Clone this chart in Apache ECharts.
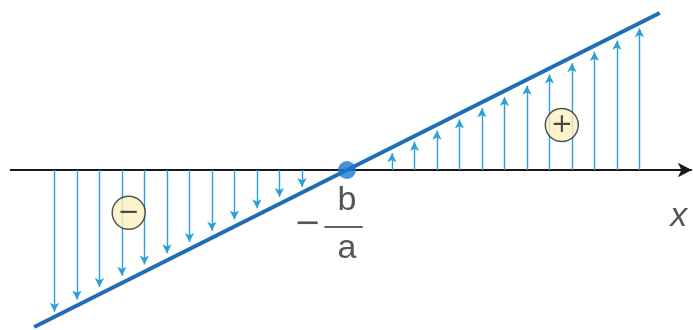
<!DOCTYPE html>
<html>
<head>
<meta charset="utf-8">
<script src="https://cdn.jsdelivr.net/npm/echarts@6/dist/echarts.min.js"></script>
<style>
  html, body { margin: 0; padding: 0; background: #fff; }
  #chart { width: 693px; height: 330px; }
</style>
</head>
<body>
<div id="chart"></div>
<script>
// line y = a*x + b, root at x = -b/a (placed at 0)
var lineX = [-13.9, 13.9];
var lineY = [-6.98, 6.98];

// vertical arrows: foot on the x axis, tip near the line
var arrowX = [-13, -12, -11, -10, -9, -8, -7, -6, -5, -4, -3, -2,
              2, 3, 4, 5, 6, 7, 8, 9, 10, 11, 12, 13];
var arrowTip = [-6.3, -5.75, -5.2, -4.7, -4.2, -3.7, -3.2, -2.7, -2.2, -1.7, -1.2, -0.75,
                0.75, 1.25, 1.75, 2.25, 2.75, 3.25, 3.75, 4.25, 4.75, 5.25, 5.75, 6.3];

var axisFrom = -14.98, axisTo = 15.33;
var root = [0, 0];
var signs = [['\u2212', -9.7, -1.9], ['+', 9.55, 2.0]];

var arrowLines = arrowX.map(function (x, i) {
  return [{ coord: [x, 0] }, { coord: [x, arrowTip[i]] }];
});

var option = {
  animation: false,
  grid: { left: 0, right: 0, top: 0, bottom: 0 },
  xAxis: { type: 'value', min: -15.42, max: 15.38, show: false },
  yAxis: { type: 'value', min: -7.111, max: 7.556, show: false },
  series: [
    {
      // x axis with arrow
      type: 'line',
      data: [],
      markLine: {
        silent: true,
        symbol: ['none', 'arrow'],
        symbolSize: [11, 14],
        label: { show: false },
        lineStyle: { color: '#1a1a1a', width: 1.8, type: 'solid' },
        data: [[{ coord: [axisFrom, 0] }, { coord: [axisTo, 0] }]]
      }
    },
    {
      // vertical arrows
      type: 'line',
      data: [],
      markLine: {
        silent: true,
        symbol: ['none', 'arrow'],
        symbolSize: [7, 9],
        label: { show: false },
        lineStyle: { color: '#2b9fd6', width: 1.4, type: 'solid' },
        data: arrowLines
      }
    },
    {
      type: 'line',
      data: lineX.map(function (x, i) { return [x, lineY[i]]; }),
      symbol: 'none',
      lineStyle: { color: '#1f6db4', width: 4 },
      z: 5
    },
    {
      type: 'scatter',
      data: [root],
      symbolSize: 18,
      itemStyle: { color: '#1b78d0' },
      z: 6
    },
    {
      type: 'scatter',
      data: signs.map(function (s) { return { value: [s[1], s[2]], name: s[0] }; }),
      symbolSize: 33,
      itemStyle: { color: '#fcf1c0', borderColor: '#2a2a2a', borderWidth: 1.5 },
      label: {
        show: true, position: 'inside', formatter: '{b}',
        color: '#1a1a1a', fontSize: 26, fontFamily: 'DejaVu Sans'
      },
      z: 6
    },
    {
      // -b/a label and x label
      type: 'scatter',
      data: [
        { value: [0, -1.35], name: 'b', fs: 34, it: 'normal', ff: 'Liberation Sans' },
        { value: [0, -3.5], name: 'a', fs: 34, it: 'normal', ff: 'Liberation Sans' },
        { value: [-1.73, -2.44], name: '\u2212', fs: 32, it: 'normal', ff: 'DejaVu Sans' },
        { value: [14.75, -2.05], name: 'x', fs: 34, it: 'italic', ff: 'Liberation Sans' }
      ].map(function (d) {
        return {
          value: d.value, name: d.name,
          label: { fontSize: d.fs, fontStyle: d.it, fontFamily: d.ff }
        };
      }),
      symbolSize: 0,
      label: {
        show: true, position: 'inside', formatter: '{b}',
        color: '#2b2b2b'
      },
      markLine: {
        silent: true,
        symbol: 'none',
        label: { show: false },
        lineStyle: { color: '#2b2b2b', width: 1.6, type: 'solid' },
        data: [[{ coord: [-1.0, -2.53] }, { coord: [0.7, -2.53] }]]
      }
    }
  ]
};

var myChart = echarts.init(document.getElementById('chart'));
myChart.setOption(option);
</script>
</body>
</html>
